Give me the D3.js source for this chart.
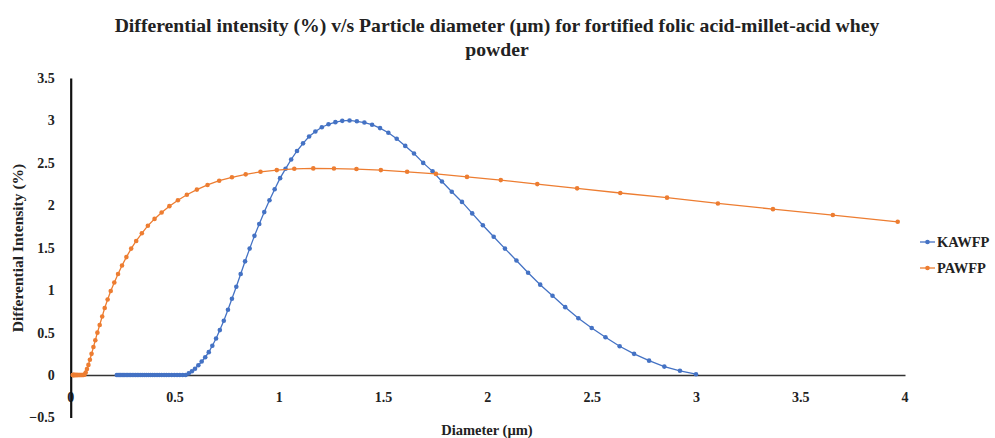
<!DOCTYPE html>
<html>
<head>
<meta charset="utf-8">
<script src="https://cdn.jsdelivr.net/npm/d3@7"></script>
<style>
  body { margin: 0; background: #fff; }
  text { font-family: "Palatino Linotype", "Book Antiqua", Palatino, "Liberation Serif", serif; }
</style>
</head>
<body>
<div id="chart"></div>
<script>
// Chart data

var titleLines = ["Differential intensity (%) v/s Particle diameter (\u00b5m) for fortified folic acid-millet-acid whey", "powder"];
var xTicks = [0, 0.5, 1, 1.5, 2, 2.5, 3, 3.5, 4];
var yTicks = [-0.5, 0, 0.5, 1, 1.5, 2, 2.5, 3, 3.5];
var seriesNames = ["KAWFP", "PAWFP"];
var seriesColors = ["#4472C4", "#ED7D31"];

// KAWFP: diameter (um) and differential intensity (%)
var kawfpDiameter = [
  0.221, 0.227, 0.233, 0.239, 0.246, 0.252, 0.259, 0.266, 0.273, 0.280,
  0.287, 0.295, 0.303, 0.311, 0.319, 0.327, 0.336, 0.345, 0.354, 0.363,
  0.373, 0.383, 0.393, 0.403, 0.414, 0.425, 0.436, 0.448, 0.459, 0.471,
  0.484, 0.497, 0.510, 0.523, 0.537, 0.551,
  0.566, 0.581, 0.596, 0.612, 0.628, 0.645, 0.662, 0.679, 0.697, 0.715,
  0.734, 0.754, 0.773, 0.794, 0.815, 0.836, 0.858, 0.881, 0.904, 0.928,
  0.953, 0.978, 1.004, 1.030, 1.057, 1.085, 1.114, 1.143, 1.173, 1.204,
  1.236, 1.269, 1.302, 1.337, 1.372, 1.408, 1.445, 1.483, 1.523, 1.563,
  1.604, 1.646, 1.690, 1.735, 1.780, 1.827, 1.876, 1.925, 1.976, 2.028,
  2.082, 2.137, 2.193, 2.251, 2.310, 2.371, 2.434, 2.498, 2.564, 2.632,
  2.701, 2.773, 2.846, 2.921, 2.998
];
var kawfpIntensity = [
  0, 0, 0, 0, 0, 0, 0, 0, 0, 0,
  0, 0, 0, 0, 0, 0, 0, 0, 0, 0,
  0, 0, 0, 0, 0, 0, 0, 0, 0, 0,
  0, 0, 0, 0, 0, 0,
  0.02, 0.045, 0.075, 0.115, 0.16, 0.21, 0.27, 0.345, 0.43, 0.53,
  0.64, 0.77, 0.90, 1.04, 1.19, 1.34, 1.49, 1.64, 1.78, 1.92,
  2.06, 2.19, 2.32, 2.43, 2.54, 2.64, 2.73, 2.81, 2.87, 2.92,
  2.955, 2.98, 2.995, 3.00, 2.99, 2.975, 2.95, 2.91, 2.855, 2.785,
  2.70, 2.61, 2.50, 2.40, 2.28, 2.16, 2.04, 1.905, 1.765, 1.63,
  1.49, 1.35, 1.205, 1.065, 0.935, 0.80, 0.67, 0.555, 0.445, 0.34,
  0.25, 0.17, 0.10, 0.05, 0.01
];

// PAWFP: diameter (um) and differential intensity (%)
var pawfpDiameter = [
  0.010, 0.011, 0.012, 0.013, 0.014, 0.015, 0.016, 0.018, 0.019, 0.021,
  0.023, 0.025, 0.027, 0.029, 0.032, 0.034, 0.037, 0.041, 0.044, 0.048,
  0.052, 0.056, 0.061,
  0.066, 0.072, 0.078, 0.085, 0.092, 0.100, 0.109, 0.118, 0.128, 0.139,
  0.151, 0.163, 0.177, 0.192, 0.209, 0.227, 0.246, 0.267, 0.290, 0.314,
  0.341, 0.370, 0.402, 0.436, 0.473, 0.514, 0.557, 0.605, 0.656, 0.712,
  0.773, 0.839, 0.910, 0.988, 1.072, 1.163, 1.262, 1.370, 1.487, 1.613,
  1.751, 1.900, 2.062, 2.237, 2.428, 2.635, 2.859, 3.103, 3.367, 3.654,
  3.965
];
var pawfpIntensity = [
  0, 0, 0, 0, 0, 0, 0, 0, 0, 0,
  0, 0, 0, 0, 0, 0, 0, 0, 0, 0,
  0, 0, 0,
  0.005, 0.03, 0.07, 0.12, 0.18, 0.25, 0.33, 0.41, 0.50, 0.59,
  0.69, 0.79, 0.89, 0.99, 1.09, 1.19, 1.29, 1.39, 1.49, 1.58,
  1.67, 1.76, 1.84, 1.915, 1.99, 2.06, 2.125, 2.185, 2.24, 2.29,
  2.33, 2.365, 2.395, 2.415, 2.43, 2.435, 2.433, 2.427, 2.415, 2.395,
  2.37, 2.335, 2.297, 2.25, 2.20, 2.145, 2.09, 2.022, 1.955, 1.885,
  1.806
];

// Set the dimensions of the picture and the plot area
var width = 995, height = 438;
var plotLeft = 70.7, plotRight = 905, plotTop = 78, plotBottom = 417.5;

var svg = d3.select("#chart")
    .append("svg")
    .attr("width", width)
    .attr("height", height);

var x = d3.scaleLinear().domain([0, 4]).range([plotLeft, plotRight]);
var y = d3.scaleLinear().domain([-0.5, 3.5]).range([plotBottom, plotTop]);

var series = [
  { name: seriesNames[0], color: seriesColors[0], xs: kawfpDiameter, ys: kawfpIntensity },
  { name: seriesNames[1], color: seriesColors[1], xs: pawfpDiameter, ys: pawfpIntensity }
];
series.forEach(function(s) {
  s.points = s.xs.map(function(d, i) { return [d, s.ys[i]]; });
});

// Title, squeezed to the width of the reference line
var title = svg.append("g").attr("font-weight", "bold").attr("fill", "#222");
title.selectAll("text")
    .data(titleLines)
    .enter()
    .append("text")
    .attr("x", 497)
    .attr("y", function(d, i) { return 32 + i * 24; })
    .attr("text-anchor", "middle")
    .attr("font-size", 16.5)
    .text(function(d) { return d; });
var firstLine = title.select("text").node();
var fit = 765 / firstLine.getComputedTextLength();
title.selectAll("text").attr("font-size", 16.5 * fit);

// Axes: x axis on the zero line, y axis on the left
var xAxis = svg.append("g")
    .attr("transform", "translate(0," + y(0) + ")")
    .call(d3.axisBottom(x).tickValues(xTicks).tickSize(0).tickPadding(0).tickFormat(d3.format("")));
xAxis.select(".domain").attr("stroke", "#333").attr("stroke-width", 1.6);
xAxis.selectAll(".tick text").remove();

svg.append("g")
    .selectAll("text")
    .data(xTicks)
    .enter()
    .append("text")
    .attr("x", function(d) { return x(d); })
    .attr("y", 402)
    .attr("text-anchor", "middle")
    .attr("font-size", 14)
    .attr("font-weight", "bold")
    .attr("fill", "#222")
    .text(function(d) { return d3.format("")(d); });

var yAxis = svg.append("g")
    .attr("transform", "translate(" + plotLeft + ",0)")
    .call(d3.axisLeft(y).tickValues(yTicks).tickSize(0).tickPadding(16).tickFormat(d3.format("")));
yAxis.select(".domain").attr("stroke", "#111").attr("stroke-width", 2.2);
yAxis.selectAll(".tick text")
    .attr("font-size", 14)
    .attr("font-weight", "bold")
    .attr("fill", "#222")
    .attr("font-family", null);

// Axis titles
svg.append("text")
    .attr("x", 487)
    .attr("y", 435)
    .attr("text-anchor", "middle")
    .attr("font-size", 14.5)
    .attr("font-weight", "bold")
    .attr("fill", "#222")
    .text("Diameter (\u00b5m)");

svg.append("text")
    .attr("transform", "translate(23,248) rotate(-90)")
    .attr("text-anchor", "middle")
    .attr("font-size", 15.5)
    .attr("font-weight", "bold")
    .attr("fill", "#222")
    .text("Differential Intensity (%)");

// Lines and markers
var line = d3.line()
    .x(function(d) { return x(d[0]); })
    .y(function(d) { return y(d[1]); });

var plot = svg.append("g");
series.forEach(function(s) {
  plot.append("path")
      .datum(s.points)
      .attr("d", line)
      .attr("fill", "none")
      .attr("stroke", s.color)
      .attr("stroke-width", 1.3);
  plot.append("g")
      .selectAll("circle")
      .data(s.points)
      .enter()
      .append("circle")
      .attr("cx", function(d) { return x(d[0]); })
      .attr("cy", function(d) { return y(d[1]); })
      .attr("r", 2.3)
      .attr("fill", s.color);
});

// Legend
var legend = svg.append("g")
    .selectAll("g")
    .data(series)
    .enter()
    .append("g")
    .attr("transform", function(d, i) { return "translate(920," + (242 + i * 26) + ")"; });
legend.append("line")
    .attr("x1", 0).attr("x2", 15)
    .attr("stroke", function(d) { return d.color; })
    .attr("stroke-width", 1.3);
legend.append("circle")
    .attr("cx", 7.5)
    .attr("r", 2.3)
    .attr("fill", function(d) { return d.color; });
legend.append("text")
    .attr("x", 17)
    .attr("y", 5)
    .attr("font-size", 14.5)
    .attr("font-weight", "bold")
    .attr("fill", "#222")
    .text(function(d) { return d.name; });
</script>
</body>
</html>
